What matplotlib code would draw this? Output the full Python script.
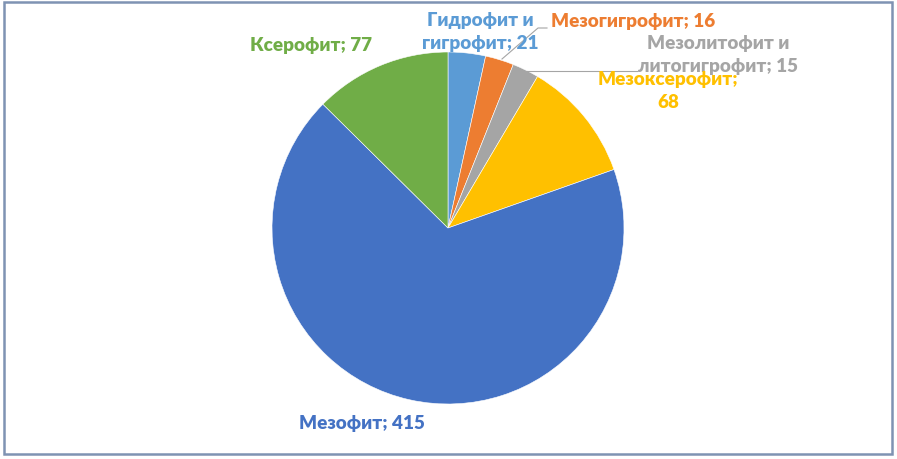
import matplotlib.pyplot as plt
from matplotlib.patches import Rectangle

plt.rcParams['font.family'] = ['Lato', 'DejaVu Sans']

categories = ['Гидрофит и\nгигрофит', 'Мезогигрофит', 'Мезолитофит и\nлитогигрофит',
              'Мезоксерофит', 'Мезофит', 'Ксерофит']
values = [21, 16, 15, 68, 415, 77]
colors = ['#5B9BD5', '#ED7D31', '#A5A5A5', '#FFC000', '#4472C4', '#70AD47']

# label layout in pixel coords (x, y from top), with separator used between name and value
label_pos = [(480, 32, ' '), (633, 21, ' '), (718, 55, ' '), (668, 91, '\n'),
             (362, 424, ' '), (311, 46, ' ')]

W, H = 897, 460
fig = plt.figure(figsize=(W / 100, H / 100), dpi=100)
ax = fig.add_axes([0, 0, 1, 1])

ax.pie(values, colors=colors, startangle=90, counterclock=False,
       center=(448, H - 229), radius=176, frame=True,
       wedgeprops=dict(edgecolor='white', linewidth=0.4))
ax.set_xlim(0, W)
ax.set_ylim(0, H)
ax.set_aspect('equal')
ax.axis('off')

for cat, val, col, (px, py, sep) in zip(categories, values, colors, label_pos):
    ax.text(px, H - py, f'{cat};{sep}{val}', color=col, fontsize=13.6,
            fontweight='heavy', ha='center', va='center', linespacing=1.4)

# leader lines
ax.plot([502, 538, 547], [H - 60, H - 29, H - 29], color='#A5A5A5', lw=0.8)
ax.plot([527, 637], [H - 72, H - 72], color='#A5A5A5', lw=0.8)

# chart frame
ax.add_patch(Rectangle((4, H - 455), 888, 452, fill=False,
                       edgecolor='#7F93B3', lw=1.8))

fig.savefig('out.png', dpi=100)
